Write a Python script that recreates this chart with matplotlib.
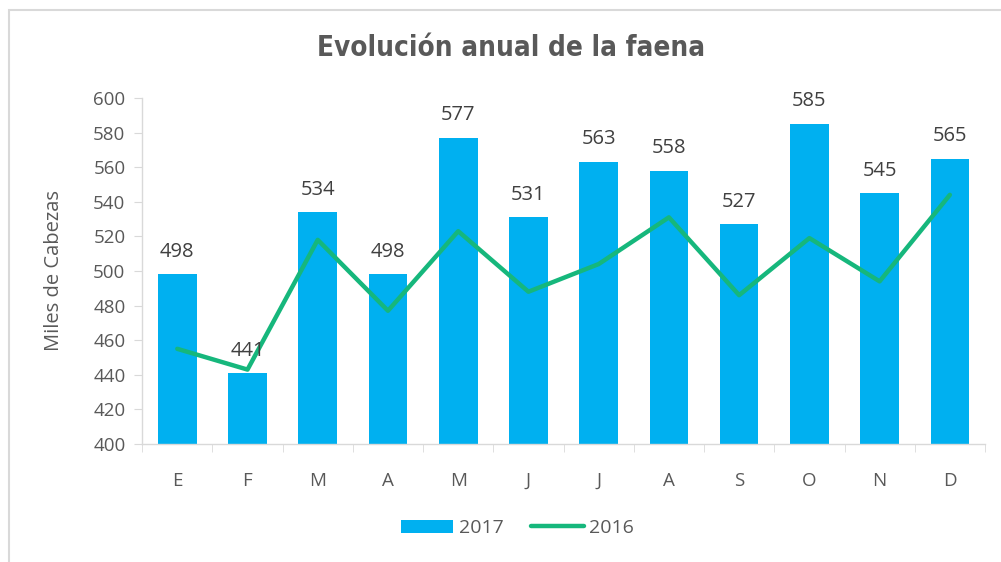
import numpy as np
import matplotlib.pyplot as plt
from matplotlib.patches import Rectangle

# datos
meses = ["E", "F", "M", "A", "M", "J", "J", "A", "S", "O", "N", "D"]
faena_2017 = [498, 441, 534, 498, 577, 531, 563, 558, 527, 585, 545, 565]
faena_2016 = [455, 443, 518, 477, 523, 488, 504, 531, 486, 519, 494, 544]

azul = "#00B0F0"
verde = "#16B77C"
gris = "#595959"

plt.rcParams['font.family'] = ['Open Sans', 'DejaVu Sans']

fig = plt.figure(figsize=(10.01, 5.62), dpi=100)
ax = fig.add_axes([0.142, 0.21, 0.842, 0.6157])

# marco del grafico
fig.patches.append(Rectangle((9 / 1001, -0.1), 1.2, 1 - 10 / 562 + 0.1,
                             transform=fig.transFigure, fill=False,
                             edgecolor="#d9d9d9", linewidth=1.5))

x = np.arange(len(meses))
barras = ax.bar(x, faena_2017, width=0.55, color=azul, label="2017", zorder=2)
linea, = ax.plot(x, faena_2016, color=verde, linewidth=3.2, label="2016",
                 solid_capstyle="round", zorder=3)

for xi, v in zip(x, faena_2017):
    ax.annotate(f"{v}", (xi, v), xytext=(0, 9), textcoords="offset points",
                ha="center", va="bottom", fontsize=14.5, color="#404040")

ax.set_ylim(400, 600)
ax.set_xlim(-0.5, len(meses) - 0.5)
ax.set_yticks(range(400, 601, 20))
ax.set_xticks(x)
ax.set_xticklabels(meses)
ax.set_xticks(np.arange(-0.5, len(meses)), minor=True)

for s in ["top", "right"]:
    ax.spines[s].set_visible(False)
for s in ["left", "bottom"]:
    ax.spines[s].set_color("#d9d9d9")
    ax.spines[s].set_linewidth(1)

ax.tick_params(axis="y", colors="#d9d9d9", labelcolor=gris, labelsize=13.5, length=6, pad=6)
ax.tick_params(axis="x", which="major", length=0, labelcolor=gris, labelsize=13.5, pad=20)
ax.tick_params(axis="x", which="minor", length=6, color="#d9d9d9")

ax.set_ylabel("Miles de Cabezas", fontsize=14.5, color=gris)
ax.yaxis.set_label_coords(-0.093, 0.5)

fig.text(0.511, 0.915, "Evolución anual de la faena", ha="center", va="center",
         fontsize=20, fontweight="bold", color=gris,
         family=['DejaVu Sans'], stretch="condensed")

leg = fig.legend([barras, linea], ["2017", "2016"], loc="center",
                 bbox_to_anchor=(0.517, 0.06), ncol=2, frameon=False,
                 fontsize=14, handlelength=2.7, columnspacing=1.4, handletextpad=0.3)
for t in leg.get_texts():
    t.set_color(gris)

fig.savefig("out.png", dpi=100)
